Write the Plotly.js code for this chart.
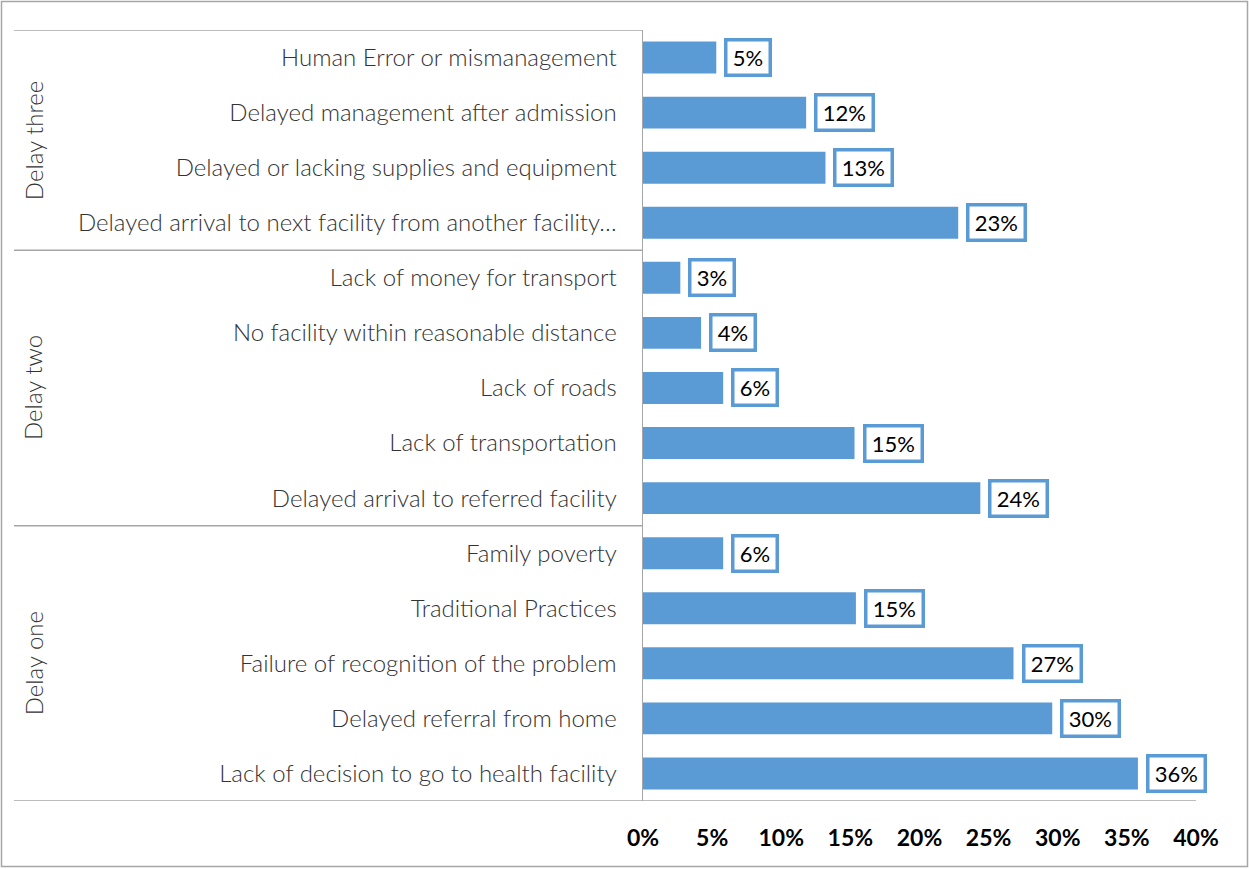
<!DOCTYPE html>
<html><head><meta charset="utf-8">
<script src="https://cdn.plot.ly/plotly-3.0.1.min.js"></script>
<style>body{margin:0;padding:0;background:#fff}#chart{width:1249px;height:869px}</style>
</head><body><div id="chart"></div>
<script>
var categories = [
  "Human Error or mismanagement",
  "Delayed management after admission",
  "Delayed or lacking supplies and equipment",
  "Delayed arrival to next facility from another facility…",
  "Lack of money for transport",
  "No facility within reasonable distance",
  "Lack of roads",
  "Lack of transportation",
  "Delayed arrival to referred facility",
  "Family poverty",
  "Traditional Practices",
  "Failure of recognition of the problem",
  "Delayed referral from home",
  "Lack of decision to go to health facility"
];
var values = [5.3, 11.8, 13.2, 22.8, 2.7, 4.2, 5.8, 15.3, 24.4, 5.8, 15.4, 26.8, 29.6, 35.8];
var labels = ["5%","12%","13%","23%","3%","4%","6%","15%","24%","6%","15%","27%","30%","36%"];
var groups = ["Delay three","Delay two","Delay one"];
var groupStart = [0, 4, 9];
var groupEnd = [3, 8, 13];
var xTicks = [0,5,10,15,20,25,30,35,40];

var W = 1249, H = 869, L = 643, R = 1196, T = 30, B = 801;
function px(p){ return (p - L) / (R - L); }
function py(p){ return (B - p) / (B - T); }
var lineCol = "#a6a6a6";
var barCol = "#5b9bd5";
var font = "Lato, Carlito, Calibri, sans-serif";

var trace = {
  type: "bar", orientation: "h",
  x: values, y: categories,
  marker: {color: barCol},
  hoverinfo: "skip"
};

var annotations = values.map(function(v, i){
  return {
    x: v, y: categories[i], xref: "x", yref: "y",
    text: "\u2009" + labels[i] + "\u2009",
    showarrow: false, xanchor: "left", yanchor: "middle", xshift: 8,
    font: {family: font, size: 22, color: "#000"},
    bgcolor: "#fff", bordercolor: barCol, borderwidth: 3.5, borderpad: 2.5
  };
});
groups.forEach(function(g, i){
  annotations.push({
    x: px(33), y: (groupStart[i] + groupEnd[i]) / 2, xref: "paper", yref: "y",
    text: g, textangle: -90, showarrow: false, xanchor: "center", yanchor: "middle",
    font: {family: font, size: 24, color: "#333333", weight: 300}
  });
});

var shapes = [
  {type: "rect", xref: "paper", yref: "paper", x0: px(1.5), x1: px(1247.5), y0: py(1.5), y1: py(866.5), line: {color: lineCol, width: 1.5}},
  {type: "line", xref: "paper", yref: "y", x0: px(14), x1: 0, y0: -0.5, y1: -0.5, line: {color: lineCol, width: 1.5}},
  {type: "line", xref: "paper", yref: "y", x0: px(14), x1: 0, y0: 3.5, y1: 3.5, line: {color: lineCol, width: 1.5}},
  {type: "line", xref: "paper", yref: "y", x0: px(14), x1: 0, y0: 8.5, y1: 8.5, line: {color: lineCol, width: 1.5}},
  {type: "line", xref: "paper", yref: "y", x0: px(14), x1: 1, y0: 13.5, y1: 13.5, line: {color: lineCol, width: 1.5}}
];

var layout = {
  width: W, height: H,
  margin: {l: L, r: W - R, t: T, b: H - B, pad: 0},
  paper_bgcolor: "#fff", plot_bgcolor: "#fff",
  showlegend: false, bargap: 0.42,
  xaxis: {
    range: [0, 40], tickvals: xTicks, ticktext: xTicks.map(function(t){return t + "%";}),
    showgrid: false, zeroline: false, showline: false, ticks: "",
    ticklabelstandoff: 21,
    tickfont: {family: font, size: 23, color: "#000", weight: "bold"}
  },
  yaxis: {
    type: "category", range: [13.5, -0.5], autorange: false,
    showgrid: false, zeroline: false, showline: true, linecolor: lineCol, linewidth: 1.5,
    ticks: "", ticklabelstandoff: 20,
    tickfont: {family: font, size: 24, color: "#333333", weight: 300}
  },
  annotations: annotations,
  shapes: shapes
};

Plotly.newPlot("chart", [trace], layout, {displayModeBar: false, staticPlot: true});
</script>
</body></html>
